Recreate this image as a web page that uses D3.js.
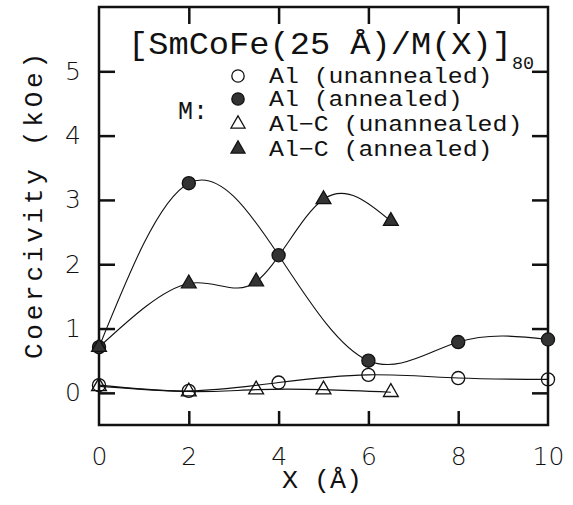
<!DOCTYPE html>
<html>
<head>
 <meta charset="utf-8">
 <script src="https://d3js.org/d3.v7.min.js"></script>
 <style>
  body { margin: 0; background: #fff; }
  .tick text { font-family: "DejaVu Sans", sans-serif; font-weight: 200; fill: #111; }
  .mono { font-family: "Liberation Mono", "DejaVu Sans Mono", monospace; fill: #111; }
 </style>
</head>
<body>
 <div id="graph"></div>
 <script type="text/javascript">
   var xTicks = [0, 2, 4, 6, 8, 10];
   var yTicks = [0, 1, 2, 3, 4, 5];
   var xInner = [2, 4, 6, 8];

   // Al (unannealed) - open circles
   var alUnX = [0, 2, 4, 6, 8, 10];
   var alUnY = [0.12, 0.03, 0.16, 0.28, 0.23, 0.21];
   // Al (annealed) - filled circles
   var alAnX = [0, 2, 4, 6, 8, 10];
   var alAnY = [0.71, 3.26, 2.14, 0.50, 0.79, 0.83];
   // Al-C (unannealed) - open triangles
   var alcUnX = [0, 2, 3.5, 5, 6.5];
   var alcUnY = [0.10, 0.02, 0.05, 0.05, 0.01];
   // Al-C (annealed) - filled triangles
   var alcAnX = [0, 2, 3.5, 5, 6.5];
   var alcAnY = [0.71, 1.70, 1.73, 3.01, 2.67];

   var legendLabels = ["Al (unannealed)", "Al (annealed)", "Al\u2212C (unannealed)", "Al\u2212C (annealed)"];
   var titleText = "[SmCoFe(25 \u00c5)/M(X)]";
   var titleSub = "80";
   var xTitle = "X (\u00c5)";
   var yTitle = "Coercivity (kOe)";

   var width = 573, height = 505;
   var padL = 99, padR = 548, padT = 7, padB = 425;

   var svg = d3.select("#graph").append("svg")
               .attr("width", width)
               .attr("height", height);

   var x = d3.scaleLinear().domain([0, 10]).range([padL, padR]);
   var y = d3.scaleLinear().domain([-0.5, 6]).range([padB, padT]);

   // ticks (inward) + labels
   svg.append("g").attr("transform", "translate(" + padL + ",0)")
      .call(d3.axisLeft(y).tickValues(yTicks).tickSize(-16).tickPadding(18).tickFormat(d3.format("d")));
   svg.append("g").attr("transform", "translate(" + padR + ",0)")
      .call(d3.axisRight(y).tickValues(yTicks).tickSize(-16).tickFormat(""));
   var bx = svg.append("g").attr("transform", "translate(0," + padB + ")")
      .call(d3.axisBottom(x).tickValues(xTicks).tickSize(-14).tickPadding(22).tickFormat(d3.format("d")));
   svg.append("g").attr("transform", "translate(0," + padT + ")")
      .call(d3.axisTop(x).tickValues(xInner).tickSize(-17).tickFormat(""));
   svg.selectAll(".domain").remove();
   svg.selectAll(".tick line").attr("stroke", "#111").attr("stroke-width", 2.5);
   svg.selectAll(".tick text").attr("font-size", 25);
   // end ticks of the bottom axis sit on the frame
   bx.selectAll(".tick line").filter(function(d){ return d === 0 || d === 10; }).remove();

   // frame
   svg.append("rect")
      .attr("x", padL).attr("y", padT)
      .attr("width", padR - padL).attr("height", padB - padT)
      .attr("fill", "none").attr("stroke", "#111").attr("stroke-width", 2.5);

   var series = [
     {xs: alUnX, ys: alUnY, sym: d3.symbolCircle, filled: false},
     {xs: alAnX, ys: alAnY, sym: d3.symbolCircle, filled: true},
     {xs: alcUnX, ys: alcUnY, sym: d3.symbolTriangle, filled: false},
     {xs: alcAnX, ys: alcAnY, sym: d3.symbolTriangle, filled: true}
   ];

   var line = d3.line()
                .x(function(d){ return x(d[0]); })
                .y(function(d){ return y(d[1]); })
                .curve(d3.curveNatural);

   series.forEach(function(s) {
     var pts = s.xs.map(function(v, i){ return [v, s.ys[i]]; });
     svg.append("path")
        .datum(pts)
        .attr("d", line)
        .attr("fill", "none")
        .attr("stroke", "#111")
        .attr("stroke-width", 1.1);
   });

   var symSize = function(s) { return s.sym === d3.symbolCircle ? 135 : 95; };

   series.forEach(function(s) {
     var pts = s.xs.map(function(v, i){ return [v, s.ys[i]]; });
     svg.append("g").selectAll("path")
        .data(pts)
        .enter().append("path")
        .attr("transform", function(d){ return "translate(" + x(d[0]) + "," + y(d[1]) + ")"; })
        .attr("d", d3.symbol().type(s.sym).size(symSize(s)))
        .attr("fill", s.filled ? "#333" : "none")
        .attr("stroke", "#111")
        .attr("stroke-width", 1.3);
   });

   // title
   svg.append("text").attr("class", "mono")
      .attr("x", 128).attr("y", 54)
      .attr("font-size", 32)
      .attr("textLength", 384).attr("lengthAdjust", "spacingAndGlyphs")
      .text(titleText);
   svg.append("text").attr("class", "mono")
      .attr("x", 512).attr("y", 69)
      .attr("font-size", 19)
      .attr("textLength", 22).attr("lengthAdjust", "spacingAndGlyphs")
      .text(titleSub);

   // legend
   var lg = svg.append("g");
   var rowY = [76, 99, 124, 149];
   series.forEach(function(s, i) {
     lg.append("path")
       .attr("transform", "translate(238," + rowY[i] + ")")
       .attr("d", d3.symbol().type(s.sym).size(s.sym === d3.symbolCircle ? 120 : 85))
       .attr("fill", s.filled ? "#333" : "none")
       .attr("stroke", "#111")
       .attr("stroke-width", 1.3);
     lg.append("text").attr("class", "mono")
       .attr("x", 269).attr("y", rowY[i] + 7)
       .attr("font-size", 22)
       .attr("textLength", legendLabels[i].length * 14.9)
       .attr("lengthAdjust", "spacingAndGlyphs")
       .text(legendLabels[i]);
   });
   lg.append("text").attr("class", "mono")
     .attr("x", 178).attr("y", 119)
     .attr("font-size", 25)
     .text("M:");

   // axis titles
   svg.append("text").attr("class", "mono")
      .attr("x", 322).attr("y", 488)
      .attr("text-anchor", "middle")
      .attr("font-size", 25)
      .attr("textLength", 80).attr("lengthAdjust", "spacingAndGlyphs")
      .text(xTitle);
   svg.append("text").attr("class", "mono")
      .attr("transform", "translate(42,206) rotate(-90)")
      .attr("text-anchor", "middle")
      .attr("font-size", 26)
      .attr("textLength", 306).attr("lengthAdjust", "spacing")
      .text(yTitle);
 </script>
</body>
</html>
